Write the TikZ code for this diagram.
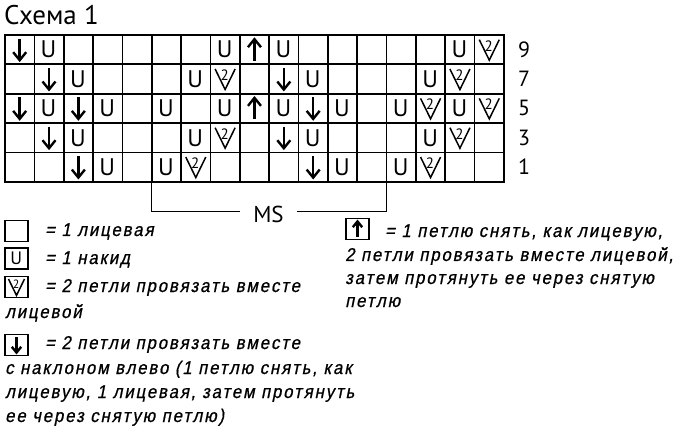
\documentclass[tikz,border=0pt]{standalone}
\usepackage{fontspec}
\setmainfont{PT Sans}
\newfontfamily\legfont[FakeSlant=0.2, FakeStretch=0.9, LetterSpace=10.5, FakeBold=0.8]{Liberation Sans}
\def\cs{29.35}
\tikzset{
  gridline/.style={line width=1.7pt, line cap=rect},
  arrline/.style={line width=2.4pt},
  vline/.style={line width=1.5pt, line join=miter},
  yofont/.style={inner sep=0, font=\fontsize{24}{24}\selectfont},
  twofont/.style={inner sep=0, font=\fontsize{15}{15}\selectfont},
  numfont/.style={inner sep=0, font=\fontsize{22}{22}\selectfont},
  msline/.style={line width=1.3pt},
  lbox/.style={draw, line width=1.3pt, minimum width=23pt, minimum height=21pt, inner sep=0},
  legtext/.style={anchor=base west, inner sep=0, font=\legfont\fontsize{18.5}{18.5}\selectfont},
  kdown/.pic={
    \draw[arrline] (0,-11) -- (0,10);
    \draw[arrline, line join=miter] (-6.5,2.5) -- (0,10.5) -- (6.5,2.5);
  },
  kup/.pic={
    \draw[arrline] (0,11) -- (0,-10);
    \draw[arrline, line join=miter] (-6.5,-2.5) -- (0,-10.5) -- (6.5,-2.5);
  },
  kyo/.pic={
    \node[yofont, transform shape] (-t) at (-0.5,0) {U};
  },
  kv2/.pic={
    \draw[vline] (-10,-10) -- (0,10.5) -- (10,-10);
    \node[twofont, transform shape] (-t) at (-0.5,-4) {2};
  }
}
\newcommand\drawE[2]{}
\newcommand\drawD[2]{\pic (p-#1-#2) at (c-#1-#2) {kdown};}
\newcommand\drawA[2]{\pic (p-#1-#2) at (c-#1-#2) {kup};}
\newcommand\drawU[2]{\pic (p-#1-#2) at (c-#1-#2) {kyo};}
\newcommand\drawV[2]{\pic (p-#1-#2) at (c-#1-#2) {kv2};}
\begin{document}
\begin{tikzpicture}[x=1pt,y=-1pt]
\useasboundingbox (0,0) rectangle (690,438);
% title
\node[anchor=base west, inner sep=0, font=\fontsize{27}{27}\selectfont] (title) at (4,24.5) {Схема 1};
% grid
\foreach \i in {0,...,17} \draw[gridline] ({5+\i*\cs},35) -- ({5+\i*\cs},{35+5*\cs});
\foreach \j in {0,...,5} \draw[gridline] (5,{35+\j*\cs}) -- ({5+17*\cs},{35+\j*\cs});
% symbols
\foreach \rowdata [count=\r from 0] in {
  {D,U,E,E,E,E,E,U,A,U,E,E,E,E,E,U,V},
  {E,D,U,E,E,E,U,V,E,D,U,E,E,E,U,V,E},
  {D,U,D,U,E,U,E,U,A,U,D,U,E,U,V,U,V},
  {E,D,U,E,E,E,U,V,E,D,U,E,E,E,U,V,E},
  {E,E,D,U,E,U,V,E,E,E,D,U,E,U,V,E,E}} {
  \foreach \s [count=\c] in \rowdata {
    \coordinate (c-\c-\r) at ({5+(\c-0.5)*\cs},{35+(\r+0.5)*\cs});
    \csname draw\s\endcsname{\c}{\r}
  }
}
% row numbers
\foreach \n [count=\r from 0] in {9,7,5,3,1}
  \node[numfont] (n\n) at (524,{35+(\r+0.5)*\cs}) {\n};
% MS bracket
\coordinate (msl) at ({5+5*\cs},{35+5*\cs});
\coordinate (msr) at ({5+13*\cs},{35+5*\cs});
\coordinate (msa) at (240,211.7);
\coordinate (msb) at (297,211.7);
\node[inner sep=0, font=\fontsize{23}{23}\selectfont] (ms) at (268.5,214.5) {MS};
\draw[msline] (msl) |- (msa);
\draw[msline] (msr) |- (msb);
% legend left
\node[lbox] (lb1) at (16.5,231) {};
\node[lbox] (lb2) at (16.5,258.5) {};
\pic[scale=0.75] (lp2) at (lb2) {kyo};
\node[lbox] (lb3) at (16.5,287) {};
\pic[scale=0.8] (lp3) at (lb3) {kv2};
\node[lbox] (lb4) at (16.5,345) {};
\pic[scale=0.72] (lp4) at (lb4) {kdown};
\node[legtext] (t1) at (45,236) {= 1 лицевая};
\node[legtext] (t2) at (45,264) {= 1 накид};
\node[legtext] (t3) at (45,292) {= 2 петли провязать вместе};
\node[legtext] (t4) at (5,318) {лицевой};
\node[legtext] (t5) at (45,349) {= 2 петли провязать вместе};
\node[legtext] (t6) at (5,374) {с наклоном влево (1 петлю снять, как};
\node[legtext] (t7) at (5,398) {лицевую, 1 лицевая, затем протянуть};
\node[legtext] (t8) at (5,422) {ее через снятую петлю)};
% legend right
\node[lbox] (lb5) at (357.5,229) {};
\pic[scale=0.72] (lp5) at (lb5) {kup};
\node[legtext] (r1) at (385,237) {= 1 петлю снять, как лицевую,};
\node[legtext] (r2) at (345,261) {2 петли провязать вместе лицевой,};
\node[legtext] (r3) at (345,284) {затем протянуть ее через снятую};
\node[legtext] (r4) at (345,307) {петлю};
\end{tikzpicture}
\end{document}
